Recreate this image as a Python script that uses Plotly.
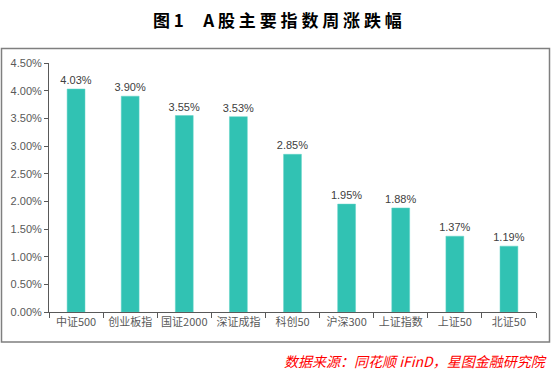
import plotly.graph_objects as go

categories = ["中证500", "创业板指", "国证2000", "深证成指", "科创50", "沪深300", "上证指数", "上证50", "北证50"]
values = [4.03, 3.90, 3.55, 3.53, 2.85, 1.95, 1.88, 1.37, 1.19]
labels = [f"{v:.2f}%" for v in values]
y_ticks = [0, 0.5, 1.0, 1.5, 2.0, 2.5, 3.0, 3.5, 4.0, 4.5]
y_tick_text = [f"{v:.2f}%" for v in y_ticks]

W, H = 554, 375
L, R, T, B = 49, 18, 63, 63
pw, ph = W - L - R, H - T - B

def px_x(x):
    return (x - L) / pw

def px_y(y):
    return (H - B - y) / ph

fig = go.Figure(go.Bar(
    x=categories, y=values, text=labels, textposition="outside",
    marker=dict(color="#31C2B3", line=dict(color="#5ED3C7", width=0.5)),
    textfont=dict(color="#404040", size=11, family="Liberation Sans, Arial"),
    cliponaxis=False, width=0.33, constraintext="none",
))

fig.update_layout(
    width=W, height=H,
    margin=dict(l=L, r=R, t=T, b=B),
    paper_bgcolor="white", plot_bgcolor="white",
    showlegend=False,
    font=dict(family="Liberation Sans, Noto Sans CJK SC", color="#595959", size=11),
    uniformtext=dict(minsize=11, mode="show"),
    xaxis=dict(
        showline=True, linecolor="#595959", linewidth=1,
        ticks="outside", tickson="boundaries", ticklen=5, tickcolor="#595959",
        tickangle=0,
        tickfont=dict(size=11, color="#595959", family="Noto Sans CJK SC, Liberation Sans"),
        showgrid=False,
    ),
    yaxis=dict(
        range=[0, 4.5], tickvals=y_ticks, ticktext=y_tick_text,
        showline=True, linecolor="#595959", linewidth=1,
        ticks="outside", ticklen=4, tickcolor="#595959",
        tickfont=dict(size=11, color="#595959"),
        showgrid=False, zeroline=False,
    ),
    shapes=[dict(
        type="rect", xref="paper", yref="paper",
        x0=px_x(1.5), x1=px_x(549.5), y0=px_y(342), y1=px_y(48.5),
        line=dict(color="#7F7F7F", width=1.5), fillcolor="rgba(0,0,0,0)", layer="below",
    )],
    annotations=[
        dict(text="<b>图 1     A 股 主 要 指 数 周 涨 跌 幅</b>", xref="paper", yref="paper",
             x=px_x(277), y=px_y(19), xanchor="center", yanchor="middle", showarrow=False,
             font=dict(size=17, color="#000000", family="Noto Sans CJK SC")),
        dict(text="<i>数据来源：同花顺 iFinD，星图金融研究院</i>", xref="paper", yref="paper",
             x=px_x(549), y=px_y(361), xanchor="right", yanchor="middle", showarrow=False,
             font=dict(size=14, color="#FF0000", family="Noto Sans CJK SC")),
    ],
)

fig.write_html("out.html")
